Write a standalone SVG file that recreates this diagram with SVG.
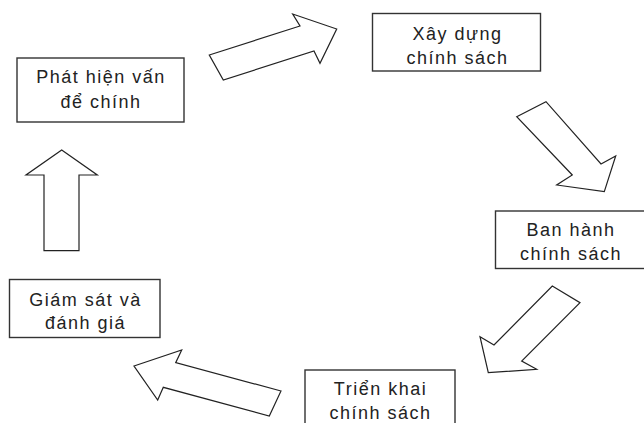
<svg xmlns="http://www.w3.org/2000/svg" width="644" height="423" viewBox="0 0 644 423">
<style>
.box{fill:#fff;stroke:#333;stroke-width:1.4}
.arr{fill:#fff;stroke:#222;stroke-width:1.2;stroke-linejoin:miter}
.t{font-family:"Liberation Sans",Arial,sans-serif;font-size:18px;letter-spacing:1.5px;fill:#222;text-anchor:middle}
</style>
<rect width="644" height="423" fill="#fff"/>
<g id="n1">
<rect class="box" x="17" y="58" width="167" height="64"/>
<text class="t" x="101" y="83">Phát hiện vấn</text>
<text class="t" x="101" y="108">để chính</text>
</g>
<g id="n2">
<rect class="box" x="372.5" y="13.5" width="168" height="57.5"/>
<text class="t" x="457.5" y="40">Xây dựng</text>
<text class="t" x="457.5" y="63.5">chính sách</text>
</g>
<g id="n3">
<rect class="box" x="495.5" y="211" width="150" height="57.5"/>
<text class="t" x="571" y="235.5">Ban hành</text>
<text class="t" x="571" y="260">chính sách</text>
</g>
<g id="n4">
<rect class="box" x="9.5" y="279.5" width="150.5" height="58"/>
<text class="t" x="85.5" y="306">Giám sát và</text>
<text class="t" x="85.5" y="329">đánh giá</text>
</g>
<g id="n5">
<rect class="box" x="305" y="370" width="150" height="60"/>
<text class="t" x="380.5" y="395">Triển khai</text>
<text class="t" x="380.5" y="418.5">chính sách</text>
</g>
<g id="connectors">
<polygon class="arr" points="209.3,55 300,26 292.7,14 336.7,29 320,63.3 314,51 223.3,80"/>
<polygon class="arr" points="516.7,116.7 546,101.7 601,164 615.7,156 604.3,191.7 556.7,185 572.3,175"/>
<polygon class="arr" points="552.3,286 580,302.7 521.7,361 536.7,369.3 488.3,372.7 480,336.7 494,345"/>
<polygon class="arr" points="281,391 175.7,362.7 181.7,350 134,366 157.7,400 163.3,387.3 269.3,416"/>
<polygon class="arr" points="61.7,150 97.3,175 79,175 79,250.7 44,250.7 44,175 26,175"/>
</g>
</svg>
